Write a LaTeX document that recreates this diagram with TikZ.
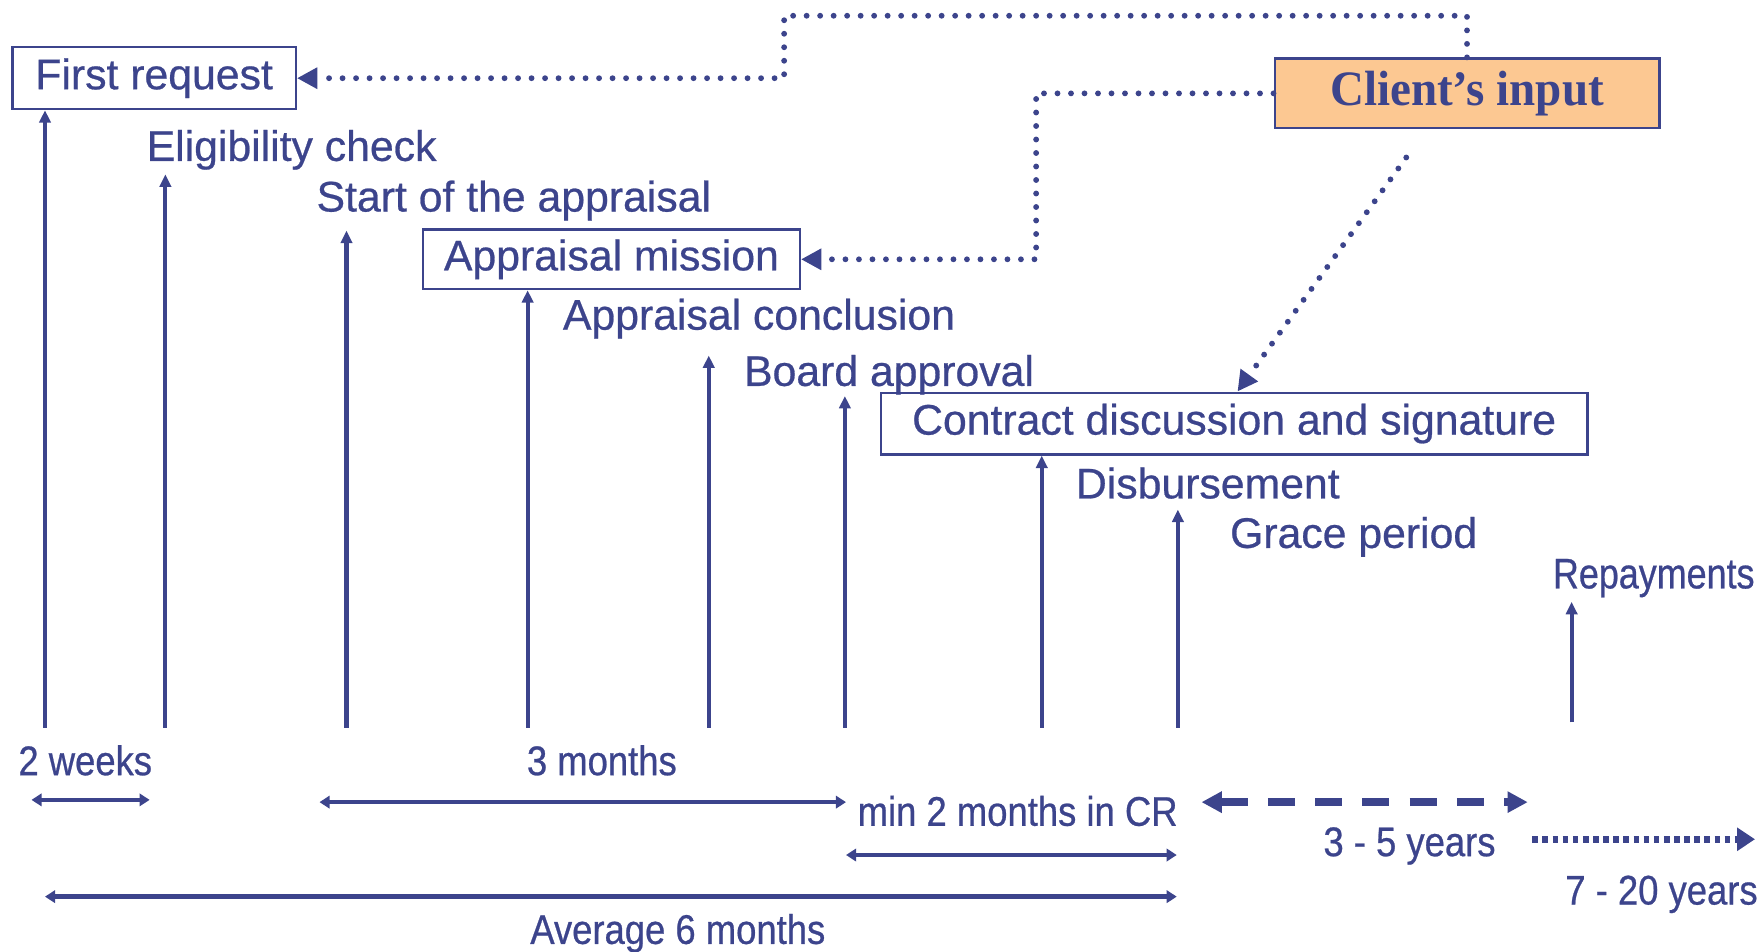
\documentclass[tikz,border=0pt]{standalone}
\usepackage{fontspec}
\setmainfont{Liberation Sans}[FakeBold=0.6]
\newfontfamily\narrowfont{Liberation Sans}[FakeStretch=0.88,FakeBold=0.6]
\newfontfamily\repfont{Liberation Sans}[FakeStretch=0.84,FakeBold=0.6]
\newfontfamily\clientfont{Liberation Serif}[FakeStretch=0.95]
\usetikzlibrary{arrows.meta}
\definecolor{navy}{RGB}{60,68,140}
\definecolor{peach}{RGB}{252,200,146}
\tikzset{
  lbl/.style={text=navy, font=\fontsize{19}{22}\selectfont, inner sep=0pt, anchor=base west},
  blbl/.style={text=navy, font=\narrowfont\fontsize{18.4}{22}\selectfont, inner sep=0pt, anchor=base west},
  stepbox/.style={draw=navy, line width=1pt, text=navy, font=\fontsize{19}{22}\selectfont, inner sep=0pt},
  varr/.style={draw=navy, line width=1.8pt, -{Triangle[length=5.5pt,width=5pt]}},
  harr/.style={draw=navy, line width=2pt, {Triangle[length=4.5pt,width=5.5pt]}-{Triangle[length=4.5pt,width=5.5pt]}},
  dotline/.style={draw=navy, line width=2.6pt, dash pattern=on 0pt off 6pt, line cap=round},
  dottip/.style={-{Triangle[length=9pt,width=9pt]}},
}
\begin{document}
\begin{tikzpicture}[x=0.5pt,y=-0.5pt]
\useasboundingbox (0,0) rectangle (1568,846);

% boxes
\node[stepbox, minimum width=126pt, minimum height=27.5pt] (fr) at (137,69.5) {First request};
\node[stepbox, minimum width=167.5pt, minimum height=26.5pt] (am) at (543.5,230.5) {Appraisal mission};
\node[stepbox, minimum width=314pt, minimum height=27.5pt] (cd) at (1097,376.5) {Contract discussion and signature};
\node[stepbox, fill=peach, minimum width=171pt, minimum height=31pt, font=\clientfont\bfseries\fontsize{22}{24}\selectfont] (ci) at (1304,83) {Client’s input};

% labels
\node[lbl] (elig) at (130,143) {Eligibility check};
\node[lbl] (start) at (281,188) {Start of the appraisal};
\node[lbl] (concl) at (500,293) {Appraisal conclusion};
\node[lbl] (board) at (661,343) {Board approval};
\node[lbl] (disb) at (956,443) {Disbursement};
\node[lbl] (grace) at (1093,487) {Grace period};
\node[lbl, font=\repfont\fontsize{19}{22}\selectfont] (repay) at (1380,523) {Repayments};

% bottom labels
\node[blbl] (w2) at (16,689) {2 weeks};
\node[blbl] (m3) at (468,689) {3 months};
\node[blbl] (m2) at (762,734) {min 2 months in CR};
\node[blbl] (y35) at (1176,761) {3 - 5 years};
\node[blbl] (y720) at (1391,804) {7 - 20 years};
\node[blbl] (avg) at (471,839) {Average 6 months};

% vertical arrows
\coordinate (b1) at (40,647);
\coordinate (b2) at (147,647);  \coordinate (t2) at (147,155);
\coordinate (b3) at (308,647);  \coordinate (t3) at (308,205);
\coordinate (b4) at (469,647);
\coordinate (b5) at (630,647);  \coordinate (t5) at (630,316);
\coordinate (b6) at (751,647);  \coordinate (t6) at (751,352);
\coordinate (b7) at (926,647);
\coordinate (b8) at (1047,647); \coordinate (t8) at (1047,453);
\coordinate (b9) at (1397,642); \coordinate (t9) at (1397,535);
\draw[varr] (b1) -- (b1 |- fr.south);
\draw[varr] (b2) -- (t2);
\draw[varr] (b3) -- (t3);
\draw[varr] (b4) -- (b4 |- am.south);
\draw[varr] (b5) -- (t5);
\draw[varr] (b6) -- (t6);
\draw[varr] (b7) -- (b7 |- cd.south);
\draw[varr] (b8) -- (t8);
\draw[varr] (b9) -- (t9);

% duration arrows
\coordinate (w2a) at (28,711);   \coordinate (w2b) at (133,711);
\coordinate (m3a) at (284,713);  \coordinate (m3b) at (752,713);
\coordinate (m2a) at (752,760);  \coordinate (m2b) at (1046,760);
\coordinate (avga) at (40,797);  \coordinate (avgb) at (1046,797);
\draw[harr] (w2a) -- (w2b);
\draw[harr] (m3a) -- (m3b);
\draw[harr] (m2a) -- (m2b);
\draw[harr] (avga) -- (avgb);

\coordinate (d1) at (1068,713); \coordinate (d2) at (1358,713);
\draw[draw=navy, line width=3.5pt, dash pattern=on 12pt off 9pt,
  {Triangle[length=9pt,width=9pt]}-{Triangle[length=9pt,width=9pt]}] (d1) -- (d2);
\coordinate (e1) at (1362,746); \coordinate (e2) at (1560,746);
\draw[draw=navy, line width=3pt, dash pattern=on 2.5pt off 2pt,
  -{Triangle[length=8pt,width=10pt]}] (e1) -- (e2);

% client's input connectors
\coordinate (k1) at (697,14);
\draw[dotline, dottip] (ci.north) |- (k1) -- (k1 |- fr.east) -- (fr.east);
\coordinate (k2) at (921,83);
\draw[dotline, dottip] (ci.west) -- (k2) |- (am.east);
\coordinate (k3) at (1250,140);
\draw[dotline, dottip] (k3) -- ([xshift=1.5pt]cd.north);
\end{tikzpicture}
\end{document}
